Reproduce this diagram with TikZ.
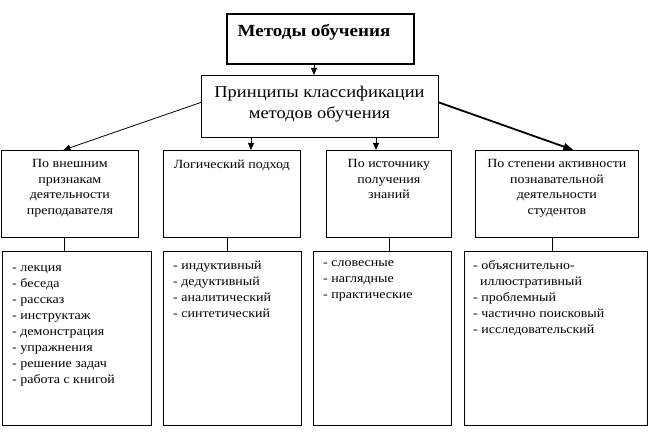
\documentclass[tikz,border=0pt]{standalone}
\usepackage{fontspec}
\setmainfont{Liberation Serif}[FakeStretch=1.12]
\usetikzlibrary{positioning,arrows.meta,calc}
\tikzset{
box/.style={draw, line width=0.8pt, inner sep=0pt, anchor=north west},
head/.style={font=\fontsize{12.5}{15.5}\selectfont, align=center, anchor=north, inner sep=0pt},
items/.style={font=\fontsize{12.5}{16}\selectfont, align=left, anchor=north west, inner sep=0pt},
arr/.style={-{Triangle[length=7pt,width=6pt]}, line width=0.8pt},
}
\begin{document}
\begin{tikzpicture}[x=1pt,y=-1pt]
  \useasboundingbox (0,0) rectangle (652,438);
  % top boxes
  \node[box, line width=2pt, minimum width=187pt, minimum height=50pt] (meth) at (226,13) {};
  \node[font=\bfseries\fontsize{17}{20}\selectfont, inner sep=0pt] (methtxt) at (314,32) {Методы обучения};
  \node[box, minimum width=237pt, minimum height=62pt] (princ) at (201,75) {};
  \node[font=\fontsize{16.5}{21}\selectfont, align=center, inner sep=0pt] (princtxt) at (319.5,104) {Принципы классификации\\методов обучения};

  % second row
  \node[box, minimum width=137pt, minimum height=87pt] (r2a) at (1,150) {};
  \node[box, minimum width=137pt, minimum height=87pt] (r2b) at (163,150) {};
  \node[box, minimum width=125pt, minimum height=87pt] (r2c) at (326,150) {};
  \node[box, minimum width=163pt, minimum height=87pt] (r2d) at (475,150) {};
  \node[head, below=9.5pt of r2a.north] (r2atxt) {По внешним\\признакам\\деятельности\\преподавателя};
  \node[head, below=9.5pt of r2b.north] (r2btxt) {Логический подход};
  \node[head, below=9.5pt of r2c.north] (r2ctxt) {По источнику\\получения\\знаний};
  \node[head, below=9.5pt of r2d.north] (r2dtxt) {По степени активности\\познавательной\\деятельности\\студентов};

  % third row
  \node[box, minimum width=149pt, minimum height=174pt] (r3a) at (2,251) {};
  \node[box, minimum width=138pt, minimum height=174pt] (r3b) at (163,251) {};
  \node[box, minimum width=138pt, minimum height=174pt] (r3c) at (313,251) {};
  \node[box, minimum width=183pt, minimum height=174pt] (r3d) at (464,251) {};
  \node[items, below right=14pt and 10pt of r3a.north west] (r3atxt) {- лекция\\- беседа\\- рассказ\\- инструктаж\\- демонстрация\\- упражнения\\- решение задач\\- работа с книгой};
  \node[items, below right=9.5pt and 10pt of r3b.north west] (r3btxt) {- индуктивный\\- дедуктивный\\- аналитический\\- синтетический};
  \node[items, below right=9.5pt and 10pt of r3c.north west] (r3ctxt) {- словесные\\- наглядные\\- практические};
  \node[items, below right=9.5pt and 9pt of r3d.north west] (r3dtxt) {- объяснительно-\\\hspace*{7pt}иллюстративный\\- проблемный\\- частично поисковый\\- исследовательский};

  % arrows
  \draw[arr] ([xshift=-6.5pt]meth.south) -- ([xshift=-6.5pt]meth.south |- princ.north);
  \draw[arr] ([yshift=4pt]princ.west) -- ([xshift=-6.5pt]r2a.north);
  \draw[arr] ([xshift=50pt]princ.south west) -- ([xshift=50pt]princ.south west |- r2b.north);
  \draw[arr] ([xshift=175pt]princ.south west) -- ([xshift=175pt]princ.south west |- r2c.north);
  \draw[-{Triangle[length=10pt,width=7pt]}, line width=1.8pt] ([yshift=4pt]princ.east) -- ([xshift=16.5pt]r2d.north);

  % lines between rows
  \draw[line width=0.8pt] ([xshift=-5.5pt]r2a.south) -- ([xshift=-5.5pt]r2a.south |- r3a.north);
  \draw[line width=0.8pt] ([xshift=-4.5pt]r2b.south) -- ([xshift=-4.5pt]r2b.south |- r3b.north);
  \draw[line width=0.8pt] (r2c.south) -- (r2c.south |- r3c.north);
  \draw[line width=0.8pt] ([xshift=-4.5pt]r2d.south) -- ([xshift=-4.5pt]r2d.south |- r3d.north);
\end{tikzpicture}
\end{document}
